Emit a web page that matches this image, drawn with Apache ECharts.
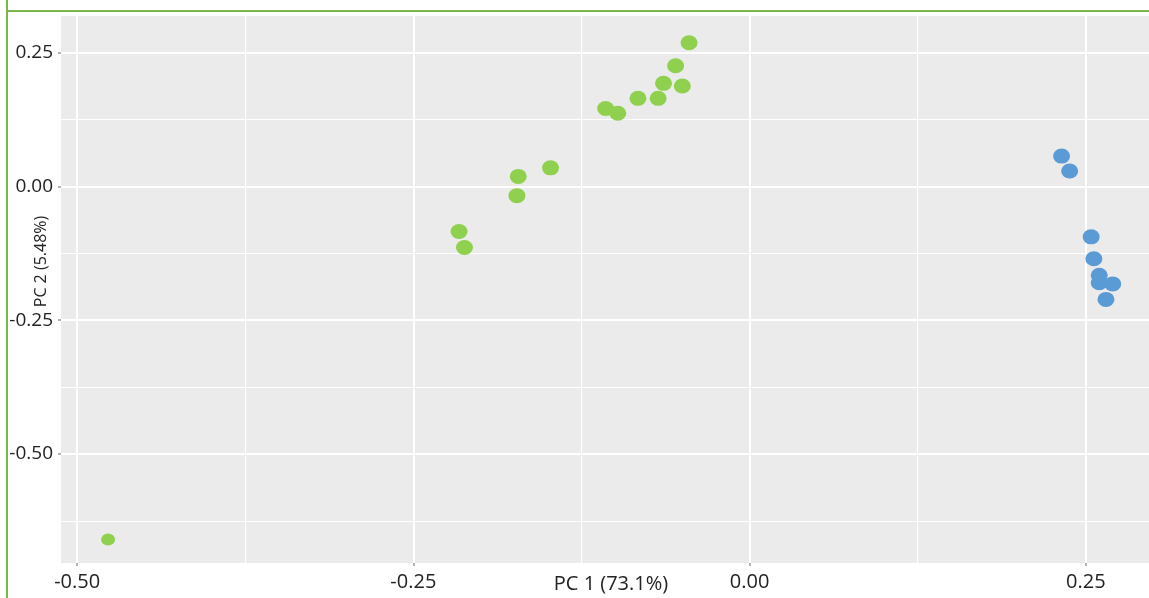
<!DOCTYPE html>
<html>
<head>
<meta charset="utf-8">
<script src="https://cdn.jsdelivr.net/npm/echarts@6/dist/echarts.min.js"></script>
<style>html,body{margin:0;padding:0;background:#fff}#c{width:1149px;height:598px}</style>
</head>
<body>
<div id="c"></div>
<script>
// Data
const groupA_PC1 = [-0.477, -0.216, -0.212, -0.172, -0.173, -0.148, -0.107, -0.098, -0.083, -0.068, -0.064, -0.050, -0.055, -0.045];
const groupA_PC2 = [-0.660, -0.084, -0.114, 0.019, -0.017, 0.035, 0.146, 0.137, 0.165, 0.165, 0.193, 0.188, 0.226, 0.269];
const groupB_PC1 = [0.232, 0.238, 0.254, 0.256, 0.260, 0.260, 0.270, 0.265];
const groupB_PC2 = [0.057, 0.029, -0.094, -0.135, -0.166, -0.180, -0.182, -0.211];
const xMajorTicks = [-0.5, -0.25, 0, 0.25];
const xMinorTicks = [-0.375, -0.125, 0.125];
const yMajorTicks = [-0.5, -0.25, 0, 0.25];
const yMinorTicks = [-0.625, -0.375, -0.125, 0.125];
const xRange = [-0.512, 0.297];
const yRange = [-0.704, 0.319];
const xName = 'PC 1 (73.1%)';
const yName = 'PC 2 (5.48%)';

const zip = (a, b) => a.map((v, i) => [v, b[i]]);
const FONT = '"Open Sans", "Noto Sans", sans-serif';
const fmt = v => v.toFixed(2);
const xLabelStyle = { color: '#222', fontSize: 20, fontFamily: FONT };
const yLabelStyle = { color: '#222', fontSize: 19, fontFamily: FONT };

const chart = echarts.init(document.getElementById('c'), null, { renderer: 'canvas' });
chart.setOption({
  animation: false,
  backgroundColor: '#fff',
  graphic: [
    { type: 'line', shape: { x1: 7, y1: 0, x2: 7, y2: 598 }, style: { stroke: '#7AB648', lineWidth: 2 }, z: 10 },
    { type: 'line', shape: { x1: 6, y1: 11, x2: 1149, y2: 11 }, style: { stroke: '#7AB648', lineWidth: 2 }, z: 10 }
  ],
  grid: { left: 61, top: 16, right: 0, bottom: 35, show: true, backgroundColor: '#EBEBEB', borderWidth: 0, containLabel: false, outerBoundsMode: 'none' },
  xAxis: [
    {
      type: 'value', min: xRange[0], max: xRange[1], position: 'bottom',
      name: xName, nameLocation: 'middle', nameGap: 11, nameMoveOverlap: false,
      nameTextStyle: Object.assign({}, xLabelStyle, { padding: [0, 0, 0, 12] }),
      axisLine: { show: false, onZero: false },
      axisTick: { show: true, length: 3, lineStyle: { color: '#999', width: 1.5 }, customValues: xMajorTicks },
      axisLabel: Object.assign({}, xLabelStyle, { margin: 9, formatter: fmt, customValues: xMajorTicks }),
      splitLine: { show: true, lineStyle: { color: '#fff', width: 2 } }
    },
    {
      type: 'value', min: xRange[0], max: xRange[1], position: 'bottom',
      axisLine: { show: false, onZero: false },
      axisTick: { show: false, customValues: xMinorTicks },
      axisLabel: { show: false, customValues: xMinorTicks },
      splitLine: { show: true, lineStyle: { color: '#fff', width: 1.2 } }
    }
  ],
  yAxis: [
    {
      type: 'value', min: yRange[0], max: yRange[1], position: 'left',
      name: yName, nameLocation: 'middle', nameGap: 12, nameRotate: 90, nameMoveOverlap: false,
      nameTextStyle: { color: '#222', fontSize: 16, fontFamily: FONT, padding: [0, 0, 0, 56] },
      axisLine: { show: false, onZero: false },
      axisTick: { show: true, length: 3, lineStyle: { color: '#999', width: 1.5 }, customValues: yMajorTicks },
      axisLabel: Object.assign({}, yLabelStyle, { margin: 8, formatter: fmt, customValues: yMajorTicks }),
      splitLine: { show: true, lineStyle: { color: '#fff', width: 2 } }
    },
    {
      type: 'value', min: yRange[0], max: yRange[1], position: 'left',
      axisLine: { show: false, onZero: false },
      axisTick: { show: false, customValues: yMinorTicks },
      axisLabel: { show: false, customValues: yMinorTicks },
      splitLine: { show: true, lineStyle: { color: '#fff', width: 1.2 } }
    }
  ],
  series: [
    {
      type: 'scatter', xAxisIndex: 0, yAxisIndex: 0,
      data: zip(groupA_PC1, groupA_PC2),
      symbol: 'circle',
      symbolSize: (v, p) => (p.dataIndex === 0 ? [14, 12] : [17, 15]),
      itemStyle: { color: '#8FD14F', opacity: 1 }
    },
    {
      type: 'scatter', xAxisIndex: 0, yAxisIndex: 0,
      data: zip(groupB_PC1, groupB_PC2),
      symbol: 'circle', symbolSize: [17, 15],
      itemStyle: { color: '#5B9BD5', opacity: 1 }
    }
  ]
});
</script>
</body>
</html>
